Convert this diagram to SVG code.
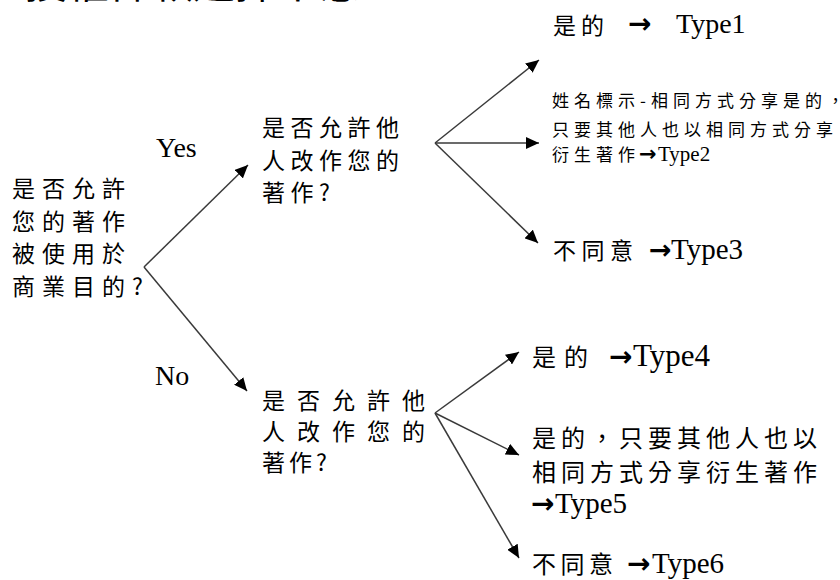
<svg xmlns="http://www.w3.org/2000/svg" width="840" height="580" viewBox="0 0 840 580">
<style>
.cjk{font-family:"Noto Sans CJK TC","Noto Sans CJK SC",sans-serif;fill:#000}
.lat{font-family:"Liberation Serif","Times New Roman",serif;fill:#000}
.arr{font-family:"DejaVu Sans",sans-serif;font-weight:bold;fill:#000}
.conn line{stroke:#3a3a3a;stroke-width:1.5;fill:none;marker-end:url(#ah)}
</style>
<defs>
<marker id="ah" markerUnits="userSpaceOnUse" markerWidth="14" markerHeight="12" refX="13" refY="6" orient="auto">
<path d="M0,0 L13,6 L0,12 Z" fill="#000"/>
</marker>
</defs>
<rect width="840" height="580" fill="#fff"/>
<g id="title"><text class="cjk" x="25" y="-2" font-size="42">授權條款選擇示意</text></g>
<g id="conn" class="conn">
<line x1="144" y1="267" x2="248" y2="165"/>
<line x1="144" y1="267" x2="247" y2="391"/>
<line x1="435" y1="143" x2="539" y2="60"/>
<line x1="435" y1="143" x2="539" y2="143"/>
<line x1="435" y1="143" x2="538" y2="243"/>
<line x1="435" y1="413" x2="519" y2="352"/>
<line x1="435" y1="413" x2="519" y2="455"/>
<line x1="435" y1="413" x2="519" y2="558"/>
</g>
<g id="q1">
<text class="cjk" font-size="23" letter-spacing="7">
<tspan x="12" y="197">是否允許</tspan>
<tspan x="12" y="230">您的著作</tspan>
<tspan x="12" y="262">被使用於</tspan>
<tspan x="12" y="295">商業目的?</tspan>
</text>
</g>
<g id="lbl-yes"><text class="lat" x="156" y="157" font-size="28">Yes</text></g>
<g id="lbl-no"><text class="lat" x="155" y="385" font-size="28">No</text></g>
<g id="q2">
<text class="cjk" font-size="23" letter-spacing="5.5">
<tspan x="262" y="136">是否允許他</tspan>
<tspan x="262" y="169">人改作您的</tspan>
<tspan x="262" y="201">著作?</tspan>
</text>
</g>
<g id="q3">
<text class="cjk" font-size="23">
<tspan x="262" y="409" letter-spacing="12">是否允許他</tspan>
<tspan x="262" y="440" letter-spacing="12">人改作您的</tspan>
<tspan x="262" y="471" letter-spacing="4">著作?</tspan>
</text>
</g>
<g id="type1">
<text class="cjk" x="553" y="34" font-size="23" letter-spacing="5">是的</text>
<text class="arr" x="628" y="33" font-size="28">→</text>
<text class="lat" x="676" y="33" font-size="28">Type1</text>
</g>
<g id="type2">
<text class="cjk" font-size="17" letter-spacing="5">
<tspan x="552" y="107">姓名標示-相同方式分享是的，</tspan>
<tspan x="552" y="136">只要其他人也以相同方式分享</tspan>
<tspan x="552" y="161">衍生著作</tspan>
</text>
<text class="arr" x="639" y="161" font-size="21">→</text>
<text class="lat" x="658" y="161" font-size="21">Type2</text>
</g>
<g id="type3">
<text class="cjk" x="553" y="259" font-size="23" letter-spacing="5.5">不同意</text>
<text class="arr" x="649" y="259" font-size="27">→</text>
<text class="lat" x="671" y="259" font-size="29">Type3</text>
</g>
<g id="type4">
<text class="cjk" x="532" y="366" font-size="24" letter-spacing="8">是的</text>
<text class="arr" x="609" y="366" font-size="28">→</text>
<text class="lat" x="633" y="366" font-size="31">Type4</text>
</g>
<g id="type5">
<text class="cjk" font-size="24" letter-spacing="5">
<tspan x="532" y="447">是的，只要其他人也以</tspan>
<tspan x="532" y="481">相同方式分享衍生著作</tspan>
</text>
<text class="arr" x="531" y="513" font-size="28">→</text>
<text class="lat" x="555" y="513" font-size="29">Type5</text>
</g>
<g id="type6">
<text class="cjk" x="532" y="573" font-size="24" letter-spacing="4.5">不同意</text>
<text class="arr" x="627" y="573" font-size="28">→</text>
<text class="lat" x="652" y="573" font-size="29">Type6</text>
</g>
</svg>
